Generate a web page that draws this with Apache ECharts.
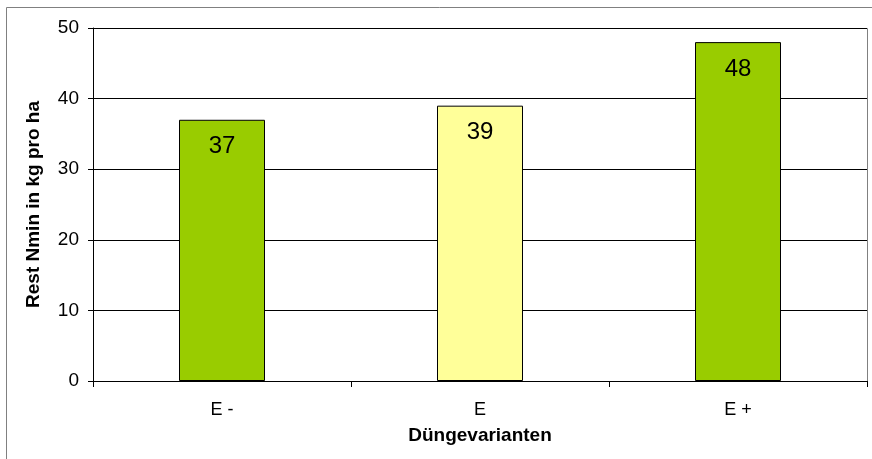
<!DOCTYPE html>
<html>
<head>
<meta charset="utf-8">
<script src="https://cdn.jsdelivr.net/npm/echarts@6/dist/echarts.min.js"></script>
<style>
  html, body { margin: 0; padding: 0; background: #fff; }
  #chart { width: 872px; height: 459px; }
</style>
</head>
<body>
<div id="chart"></div>
<script>
  const categories = ['E -', 'E', 'E +']
  const values = [37, 39, 48]
  const barColors = ['#99cc00', '#ffff99', '#99cc00']
  const yTicks = { min: 0, max: 50, interval: 10 }
  const font = 'Liberation Sans, Arial, sans-serif'

  const chart = echarts.init(document.getElementById('chart'))
  chart.setOption({
    animation: false,
    textStyle: { fontFamily: font },
    graphic: [
      {
        type: 'rect',
        shape: { x: 6.5, y: 7.5, width: 880, height: 470 },
        style: { fill: 'none', stroke: '#808080', lineWidth: 1 },
        z: -1
      },
      {
        type: 'rect',
        shape: { x: 93.5, y: 28.5, width: 774, height: 353 },
        style: { fill: 'none', stroke: '#808080', lineWidth: 1 },
        z: -1
      }
    ],
    grid: { left: 93, top: 28, right: 5, bottom: 78, containLabel: false },
    xAxis: {
      type: 'category',
      data: categories,
      name: 'Düngevarianten',
      nameLocation: 'middle',
      nameGap: 45,
      nameTextStyle: { fontSize: 19, fontWeight: 'bold', color: '#000', fontFamily: font },
      axisLine: { lineStyle: { color: '#000', width: 1 } },
      axisTick: { show: true, length: 6, lineStyle: { color: '#000' } },
      axisLabel: { fontSize: 18, color: '#000', margin: 20, fontFamily: font },
      splitLine: { show: false }
    },
    yAxis: {
      type: 'value',
      min: yTicks.min,
      max: yTicks.max,
      interval: yTicks.interval,
      name: 'Rest Nmin in kg pro ha',
      nameLocation: 'middle',
      nameGap: 50,
      nameTextStyle: { fontSize: 19, fontWeight: 'bold', color: '#000', fontFamily: font },
      axisLine: { show: true, lineStyle: { color: '#000', width: 1 } },
      axisTick: { show: true, length: 5, inside: false, lineStyle: { color: '#000' } },
      axisLabel: { fontSize: 19, color: '#000', margin: 14, fontFamily: font },
      splitLine: { show: true, lineStyle: { color: '#000', width: 1 } }
    },
    series: [
      {
        type: 'bar',
        barWidth: 86,
        data: values.map((v, i) => ({
          value: v,
          itemStyle: { color: barColors[i], borderColor: '#000', borderWidth: 1 }
        })),
        label: {
          show: true,
          position: 'insideTop',
          distance: 15,
          fontSize: 24,
          color: '#000',
          fontFamily: font
        }
      }
    ]
  })
</script>
</body>
</html>
